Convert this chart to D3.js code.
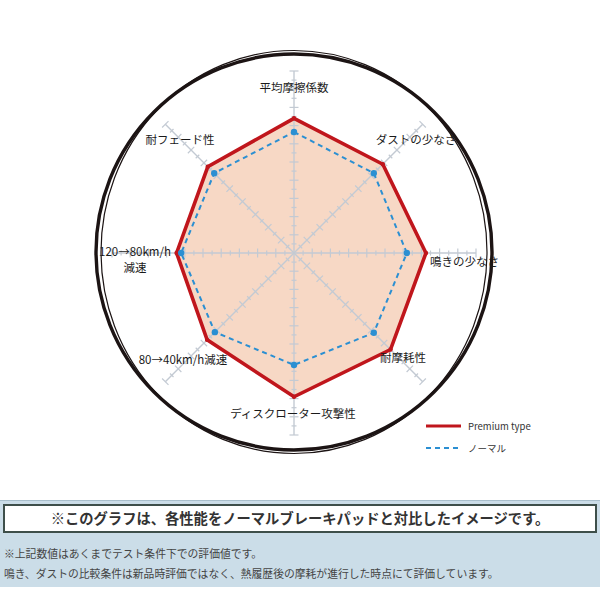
<!DOCTYPE html>
<html><head><meta charset="utf-8">
<script src="https://cdn.jsdelivr.net/npm/d3@7"></script>
<style>body{margin:0;background:#fff;}svg{display:block;}</style>
</head><body>
<svg id="c" width="600" height="600"></svg>
<script>
const categories = ["平均摩擦係数","ダストの少なさ","鳴きの少なさ","耐摩耗性","ディスクローター攻撃性","80→40km/h減速","120→80km/h\n減速","耐フェード性"];
const premium = [7.4, 6.9, 7.25, 7.5, 7.9, 6.75, 6.45, 6.7];
const normal  = [6.65, 6.2, 6.2, 6.2, 6.15, 6.15, 6.2, 6.2];
const tickValues = d3.range(0.5, 10.01, 0.5);
const seriesNames = ["Premium type", "ノーマル"];
const noteTitle = "※このグラフは、各性能をノーマルブレーキパッドと対比したイメージです。";
const notes = ["※上記数値はあくまでテスト条件下での評価値です。","鳴き、ダストの比較条件は新品時評価ではなく、熱履歴後の摩耗が進行した時点にて評価しています。"];

const svg = d3.select("#c");
const cx = 294, cy = 253;
const FONT = "'Noto Sans CJK JP','Noto Sans',sans-serif";
const r = d3.scaleLinear().domain([0, 10]).range([0, 182]);
const ang = d3.scaleLinear().domain([0, categories.length]).range([0, 2*Math.PI]);
const pt = (i, v) => [cx + r(v)*Math.sin(ang(i)), cy - r(v)*Math.cos(ang(i))];

// outer double circle
svg.append("circle").attr("cx", cx).attr("cy", 252).attr("r", 198)
  .attr("fill", "none").attr("stroke", "#1c1414").attr("stroke-width", 3.4);
svg.append("ellipse").attr("cx", cx).attr("cy", 252).attr("rx", 193).attr("ry", 201.5)
  .attr("fill", "none").attr("stroke", "#1c1414").attr("stroke-width", 1.2);

const g = svg.append("g");
const line = d3.line().curve(d3.curveLinearClosed);

// fill
g.append("path").attr("d", line(premium.map((v,i)=>pt(i,v))))
  .attr("fill", "#f7d8c5").attr("stroke", "none");

// axes with ticks
categories.forEach((c, i) => {
  const a = ang(i);
  const ax = g.append("g").attr("transform", `translate(${cx},${cy}) rotate(${a*180/Math.PI})`);
  ax.append("line").attr("x1", 0).attr("y1", 0).attr("x2", 0).attr("y2", -r(10))
    .attr("stroke", "#c3cad3").attr("stroke-width", 1.4);
  tickValues.forEach(t => {
    const major = Math.abs(t - Math.round(t)) < 1e-6;
    const h = t === 10 ? 4.5 : (major ? 4.5 : 2.5);
    ax.append("line").attr("x1", -h).attr("x2", h).attr("y1", -r(t)).attr("y2", -r(t))
      .attr("stroke", "#c3cad3").attr("stroke-width", 1.2);
  });
});

// premium outline
g.append("path").attr("d", line(premium.map((v,i)=>pt(i,v))))
  .attr("fill", "none").attr("stroke", "#c0161c").attr("stroke-width", 3.6)
  .attr("stroke-linejoin", "miter");
g.selectAll(".pd").data(premium).join("circle")
  .attr("cx", (v,i)=>pt(i,v)[0]).attr("cy", (v,i)=>pt(i,v)[1]).attr("r", 2.2).attr("fill", "#c0161c");

// normal dashed
g.append("path").attr("d", line(normal.map((v,i)=>pt(i,v))))
  .attr("fill", "none").attr("stroke", "#2b8fd2").attr("stroke-width", 2)
  .attr("stroke-dasharray", "5,4");
g.selectAll(".nd").data(normal).join("circle")
  .attr("cx", (v,i)=>pt(i,v)[0]).attr("cy", (v,i)=>pt(i,v)[1]).attr("r", 3.2).attr("fill", "#2b8fd2");

// labels (layout offsets from centre)
const labelPos = [[0,-161,"middle"],[122,-109,"middle"],[136,13,"start"],[109,109,"middle"],[-1,165,"middle"],[-111,111,"middle"],[-159,3,"middle"],[-114,-109,"middle"]];
categories.forEach((c, i) => {
  const [dx, dy, anchor] = labelPos[i];
  const lines = c.split("\n");
  lines.forEach((l, k) => {
    svg.append("text").attr("x", cx+dx).attr("y", cy+dy + k*16).attr("text-anchor", anchor)
      .attr("font-family", FONT).attr("font-size", 11.5).attr("fill", "#1a1a1a").text(l);
  });
});

// legend
const lg = svg.append("g").attr("transform", "translate(426,426)");
lg.append("line").attr("x1", 0).attr("x2", 35).attr("y1", 0).attr("y2", 0)
  .attr("stroke", "#c0161c").attr("stroke-width", 3);
lg.append("line").attr("x1", 0).attr("x2", 33).attr("y1", 22).attr("y2", 22)
  .attr("stroke", "#2b8fd2").attr("stroke-width", 2).attr("stroke-dasharray", "5,4");
lg.selectAll("text").data(seriesNames).join("text")
  .attr("x", 42).attr("y", (d,i)=>i*22 + 3.5)
  .attr("font-family", FONT).attr("font-size", 9.5).attr("fill", "#333").text(d=>d);

// bottom band
svg.append("rect").attr("x", 0).attr("y", 500).attr("width", 600).attr("height", 87).attr("fill", "#cbdde8");
svg.append("line").attr("x1", 0).attr("x2", 600).attr("y1", 500.5).attr("y2", 500.5).attr("stroke", "#a9bfcc").attr("stroke-width", 1);
svg.append("rect").attr("x", 4).attr("y", 505).attr("width", 592).attr("height", 27)
  .attr("fill", "#fff").attr("stroke", "#3e4f4a").attr("stroke-width", 2);
svg.append("text").attr("x", 300).attr("y", 523.5).attr("text-anchor", "middle")
  .attr("font-family", FONT).attr("font-size", 14.3).attr("font-weight", "bold").attr("fill", "#333").text(noteTitle);
svg.selectAll(".note").data(notes).join("text")
  .attr("x", 4).attr("y", (d,i)=>558 + i*20)
  .attr("font-family", FONT).attr("font-size", 10.8).attr("fill", "#444").text(d=>d);
</script>
</body></html>
